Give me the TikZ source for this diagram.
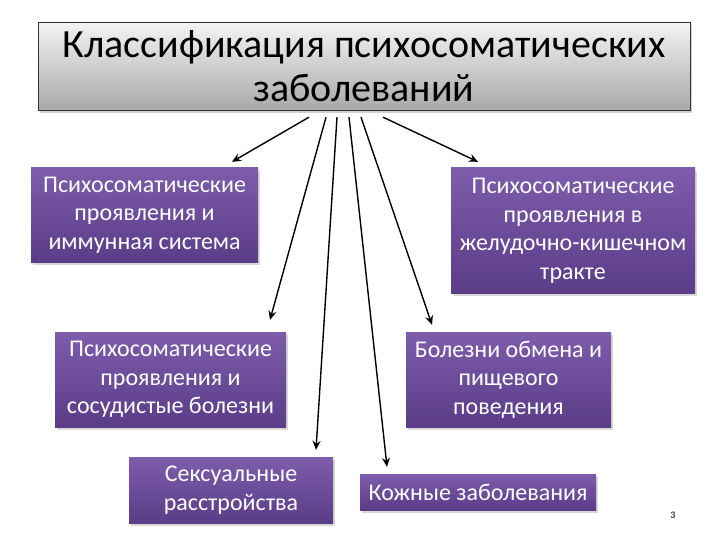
\documentclass[tikz,border=0pt]{standalone}
\usepackage{fontspec}
\setmainfont{Carlito}
\usetikzlibrary{arrows.meta,shadows}
\definecolor{violet-top}{HTML}{7D5DAB}
\definecolor{violet-bot}{HTML}{5B3C87}
\definecolor{grey-top}{HTML}{F4F4F4}
\definecolor{grey-bot}{HTML}{A9A9A9}
\tikzset{
    title-box/.style = {draw=black!80, thin, rectangle, top color=grey-top, bottom color=grey-bot, minimum width=652pt, minimum height=88pt, align=center, inner sep=0pt, font=\fontsize{40}{44}\selectfont, drop shadow={shadow xshift=2pt, shadow yshift=-3pt, opacity=0.35}},
    class-box/.style = {rectangle, top color=violet-top, bottom color=violet-bot, text=white, align=center, inner sep=0pt, font=\fontsize{24}{28.5}\selectfont, drop shadow={shadow xshift=2pt, shadow yshift=-3pt, opacity=0.3}},
    link/.style = {-{Stealth[length=9pt, width=8pt, inset=3pt]}, line width=1.4pt},
}

\begin{document}
\begin{tikzpicture}[x=1pt, y=-1pt]
\useasboundingbox[fill=white] (0,0) rectangle (720,540);
\node [title-box] (title) at (364,66) {Классификация психосоматических\\заболеваний};
\node [class-box, minimum width=227pt, minimum height=94pt] (immune) at (144.5,215) {Психосоматические\\проявления и\\иммунная система};
\node [class-box, minimum width=244pt, minimum height=125pt] (gut) at (573,230.5) {Психосоматические\\проявления в\\желудочно-кишечном\\тракте};
\node [class-box, minimum width=231pt, minimum height=95pt] (vessel) at (170.5,379.5) {Психосоматические\\проявления и\\сосудистые болезни};
\node [class-box, minimum width=205pt, minimum height=95pt] (metab) at (508.5,379.5) {Болезни обмена и\\пищевого\\поведения};
\node [class-box, minimum width=204pt, minimum height=66pt] (sexual) at (231,490) {Сексуальные\\расстройства};
\node [class-box, minimum width=236pt, minimum height=36pt] (skin) at (478,492) {Кожные заболевания};
\node [font=\bfseries\fontsize{10}{11}\selectfont, text=black!75] (page) at (673,515) {3};

\draw [link] ([xshift=-55pt, yshift=-7pt]title.south) -- ([xshift=87.5pt, yshift=6pt]immune.north);
\draw [link] ([xshift=19pt, yshift=-7pt]title.south) -- ([xshift=-95pt, yshift=6pt]gut.north);
\draw [link] ([xshift=-38pt, yshift=-7pt]title.south) -- ([xshift=99.5pt, yshift=12pt]vessel.north);
\draw [link] ([xshift=-27pt, yshift=-7pt]title.south) -- ([xshift=85pt, yshift=7pt]sexual.north);
\draw [link] ([xshift=-15pt, yshift=-7pt]title.south) -- ([xshift=-91pt, yshift=7pt]skin.north);
\draw [link] ([xshift=-3pt, yshift=-7pt]title.south) -- ([xshift=-76.5pt, yshift=7pt]metab.north);
\end{tikzpicture}
\end{document}
